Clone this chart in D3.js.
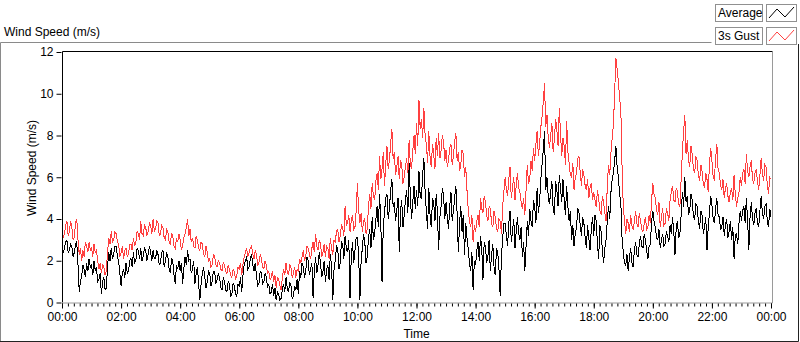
<!DOCTYPE html>
<html><head><meta charset="utf-8">
<script src="https://cdn.jsdelivr.net/npm/d3@7"></script>
<style>
html,body{margin:0;padding:0;background:#fff;}
svg text{font-family:"Liberation Sans",Arial,sans-serif;font-size:12px;fill:#000;}
</style></head>
<body>
<svg id="chart" width="800" height="342"></svg>
<script>
// ---- data (2.5-minute samples, 00:00 .. 24:00), one row per hour ----
const stepMinutes = 2.5;
const gust = [
3.8,3.1,3.3,3.7,3.9,3.2,3.4,3.9,3.6,3.0,3.1,3.8,4.0,3.0,2.3,2.6,2.0,2.5,2.2,2.9,2.7,2.4,2.9,2.5,
2.6,2.2,2.8,2.4,2.5,2.0,1.6,1.9,1.4,1.8,1.7,1.3,1.5,2.4,3.1,2.8,3.4,2.9,3.0,3.4,3.3,2.9,2.8,2.2,
2.4,2.7,2.1,2.5,2.6,2.2,2.3,2.8,2.8,2.5,3.1,2.7,2.9,3.4,3.3,3.0,3.9,3.3,3.2,3.7,3.6,3.2,3.4,3.8,
3.7,3.3,4.0,3.4,3.5,3.9,3.8,3.2,3.3,3.7,3.6,3.1,3.0,3.5,3.4,2.9,2.8,3.3,3.2,2.7,2.6,3.1,2.9,3.3,
3.0,2.5,2.7,3.1,3.3,3.6,4.0,3.2,3.5,2.9,3.1,2.7,2.6,3.2,3.0,2.6,2.5,2.9,2.8,2.3,2.2,2.7,2.4,2.0,
2.1,1.7,1.8,2.3,2.2,1.8,1.7,2.0,1.9,1.6,1.5,1.9,1.8,1.5,1.4,1.8,1.6,1.3,1.2,1.6,1.5,1.1,1.3,1.7,
1.6,1.9,1.3,1.8,2.2,2.4,2.6,2.2,2.4,2.6,2.7,2.3,2.1,2.5,2.3,1.8,1.9,2.3,2.1,1.7,1.6,2.0,1.8,1.4,
1.5,1.1,1.2,1.5,1.0,1.3,0.7,1.2,1.1,0.8,0.6,1.2,1.6,1.3,1.9,1.5,1.3,1.8,1.7,1.2,1.4,1.7,1.2,1.6,
1.5,2.1,1.9,2.2,2.5,2.0,2.2,2.7,2.6,2.3,2.1,2.6,2.9,2.4,3.3,2.7,2.5,3.0,2.8,2.2,2.4,2.8,2.2,2.7,
2.6,2.1,3.1,2.6,2.3,3.0,2.9,3.4,3.5,2.9,3.2,3.7,3.6,3.2,4.6,3.7,3.8,4.2,3.4,3.9,4.2,3.5,3.6,4.4,
5.7,4.4,3.8,4.3,3.4,3.9,4.0,3.3,3.5,4.6,5.2,4.5,5.7,5.1,4.9,5.8,6.2,5.4,7.0,5.9,6.4,7.2,5.6,6.6,
7.5,6.4,6.8,7.6,8.3,6.9,7.2,6.1,6.5,7.0,5.9,6.8,6.6,5.7,6.0,6.5,6.9,6.2,7.8,6.6,6.4,7.3,8.0,7.1,
8.6,7.5,9.7,8.3,8.8,7.9,9.3,8.0,7.6,6.7,8.2,7.0,6.5,7.6,7.1,6.4,7.9,7.0,8.1,6.9,7.3,8.0,7.7,6.8,
7.3,6.5,6.8,7.4,7.6,6.6,7.0,7.7,8.1,6.8,7.2,6.3,6.6,7.3,7.1,6.0,6.5,5.4,4.5,3.9,3.6,4.2,2.9,3.7,
3.4,3.9,4.2,3.6,5.0,4.5,4.3,5.1,4.8,4.2,3.9,4.6,4.5,3.8,3.6,4.4,4.1,3.5,3.4,4.0,3.9,3.3,4.6,5.3,
6.0,5.4,5.1,5.9,6.5,5.0,5.5,6.0,4.9,5.6,6.2,5.5,5.3,4.8,4.5,5.0,4.2,5.4,6.6,5.7,5.9,6.8,6.3,7.4,
6.8,7.6,8.2,7.0,7.6,8.4,8.9,9.6,10.5,8.4,9.0,7.9,7.4,8.0,8.6,7.2,7.8,8.8,8.3,7.5,9.3,8.1,7.0,7.9,
7.5,6.6,8.7,7.2,6.7,6.1,6.0,6.7,5.4,6.0,6.2,6.9,7.0,6.2,5.6,6.4,6.1,5.6,5.4,5.9,5.0,5.5,5.7,4.9,
5.3,4.9,4.6,5.4,5.0,4.4,4.2,5.1,4.8,4.3,3.9,5.6,6.6,6.1,7.2,7.9,8.5,10.1,11.7,11.2,10.6,9.8,9.2,6.5,
4.6,3.9,3.3,4.0,3.8,3.4,4.2,3.7,3.5,3.9,4.4,3.8,3.6,4.3,3.9,3.5,3.4,3.8,4.1,3.5,3.6,4.2,3.8,4.9,
5.7,5.2,5.0,4.4,4.2,4.8,3.6,4.1,4.5,3.7,3.8,4.5,4.3,3.9,4.9,5.3,5.6,4.9,4.8,5.5,5.3,4.7,4.6,5.9,
7.2,8.2,9.0,7.1,7.8,6.8,6.5,7.5,7.1,6.4,6.2,7.0,6.8,6.1,5.8,6.6,6.3,5.7,5.5,6.2,5.9,5.3,6.6,7.4,
6.8,6.0,5.9,6.9,7.6,6.4,6.2,5.6,5.4,5.9,5.0,5.5,5.7,5.1,4.8,5.3,5.5,4.9,6.1,5.2,4.6,5.0,5.3,6.0,
5.6,6.2,6.4,5.7,7.1,6.3,6.0,6.5,6.8,5.9,5.7,6.2,6.4,5.8,5.4,6.1,6.9,6.2,5.8,6.6,6.5,5.6,5.2,6.0,5.9
];
const average = [
2.8,2.4,2.6,2.9,3.0,2.4,2.5,2.8,2.7,2.2,2.4,2.8,2.9,1.8,0.5,1.0,1.3,1.8,1.6,1.2,1.9,1.5,2.1,1.7,
1.8,1.3,2.0,1.5,1.7,1.0,1.1,1.4,0.4,1.0,1.2,0.6,0.7,1.7,2.4,2.0,2.6,2.1,2.3,2.7,2.7,2.2,2.0,1.4,
0.8,1.4,1.6,1.2,1.9,1.4,1.5,2.0,2.1,1.7,2.4,1.9,2.0,2.6,2.5,2.1,2.6,2.0,2.2,2.6,2.5,2.0,2.3,2.7,
2.4,2.0,2.5,2.1,2.1,2.5,2.3,1.8,1.9,2.4,2.5,1.7,2.0,2.4,2.2,1.6,1.4,2.1,2.0,1.3,0.9,1.8,1.6,2.0,
1.5,1.9,0.9,1.6,2.2,1.8,2.5,2.0,2.1,1.4,1.6,2.0,0.9,1.4,1.7,0.9,0.1,0.9,1.4,1.7,1.2,0.7,1.0,1.5,
1.4,0.8,1.0,1.5,1.5,0.9,1.1,1.4,1.2,0.7,0.6,1.2,1.0,0.6,0.5,1.0,0.9,0.3,0.4,0.9,0.8,0.4,0.3,0.9,
0.8,1.2,0.5,1.3,1.8,2.0,2.2,1.6,1.7,2.1,2.3,1.8,1.5,1.9,1.3,0.8,0.9,1.5,1.4,0.9,1.0,1.4,1.2,0.7,
0.9,0.4,0.5,0.9,0.3,0.7,0.1,0.5,0.4,0.1,0.2,0.6,0.9,0.5,1.2,0.7,0.5,1.0,0.8,0.2,0.3,0.8,0.6,1.1,
0.4,1.5,1.2,1.9,1.7,1.2,1.5,2.2,2.0,1.3,1.6,1.9,0.2,1.5,2.2,1.4,1.8,2.4,1.9,1.2,1.5,2.0,1.0,1.6,
1.8,1.1,2.3,1.7,0.1,1.6,2.0,2.7,2.6,1.6,1.9,2.9,2.8,2.1,3.2,2.6,2.4,3.0,0.2,2.2,2.9,1.9,2.5,3.1,
3.1,2.3,0.1,2.0,2.6,3.3,2.9,1.9,2.2,3.1,3.5,2.6,4.1,3.0,3.3,4.0,4.6,3.6,5.2,3.9,1.0,3.6,4.3,5.0,
5.2,4.0,4.5,5.4,5.9,4.6,4.8,3.9,4.4,5.0,2.4,4.4,4.9,3.6,4.2,4.9,5.4,4.3,6.7,5.1,4.0,4.8,5.6,4.5,
5.4,4.6,6.3,5.1,5.0,6.1,6.9,5.3,4.4,3.5,5.5,4.2,3.6,5.0,4.8,3.9,5.2,4.3,2.5,4.1,4.6,5.5,5.1,4.0,
4.8,4.1,3.5,4.6,5.3,3.9,4.4,5.0,5.6,4.3,2.4,3.8,4.6,3.4,4.2,2.3,3.8,3.1,2.6,1.9,1.5,2.4,0.6,2.0,
1.8,2.5,2.9,2.0,3.2,2.6,1.1,2.9,2.7,1.9,2.2,3.0,1.5,2.3,2.8,1.7,1.3,2.6,2.4,1.6,0.3,2.2,3.1,3.8,
3.8,3.2,2.7,3.8,4.4,2.9,3.4,4.0,2.6,3.4,4.1,3.3,3.0,3.6,2.2,2.9,1.5,2.7,3.9,3.2,4.5,3.9,3.6,4.9,
4.6,3.8,5.5,4.3,4.8,5.9,6.6,7.3,8.2,5.4,6.0,5.1,4.7,5.3,5.8,4.5,4.2,5.8,5.4,4.6,6.1,5.5,4.8,5.9,
4.9,4.2,5.6,4.6,3.9,4.4,3.0,3.7,2.7,3.3,3.6,4.5,4.3,3.7,3.2,4.1,3.8,3.1,2.6,3.7,3.1,2.5,3.5,4.1,
3.2,4.2,3.9,2.8,2.1,3.7,3.4,2.5,1.9,2.6,3.0,3.9,4.6,4.0,5.3,5.9,6.2,6.8,7.5,6.5,6.0,5.2,4.8,3.1,
2.4,1.9,1.8,2.3,1.5,2.2,2.6,1.9,1.7,2.5,2.9,2.3,2.2,2.8,3.2,2.7,2.6,3.3,3.0,2.5,2.1,2.7,2.8,3.9,
4.4,3.9,3.6,3.1,3.0,3.5,2.6,3.0,3.3,2.7,2.8,3.4,3.2,2.9,3.7,3.3,4.1,3.4,2.3,3.6,3.9,3.1,3.3,4.2,
5.3,4.6,6.0,4.8,5.1,4.2,4.4,5.2,4.9,4.1,4.0,4.7,4.6,3.9,3.5,4.4,4.2,3.3,3.6,4.1,2.5,3.6,4.3,5.1,
4.7,4.0,3.8,4.5,5.0,4.2,4.1,3.5,3.6,4.1,3.2,3.7,4.0,3.1,3.4,3.9,3.0,3.6,2.1,3.2,3.3,2.8,3.8,4.4,
3.9,4.4,4.6,3.8,5.0,3.9,2.5,4.1,4.8,4.0,3.7,4.3,4.5,3.8,3.6,4.4,5.1,4.3,4.0,4.6,4.7,3.9,3.6,4.5,4.1
];
const seriesNames = ["Average", "3s Gust"];
const seriesColors = ["#000000", "#ff4040"];
const yTicks = [0, 2, 4, 6, 8, 10, 12];
const xTickMinutes = [0,120,240,360,480,600,720,840,960,1080,1200,1320,1440];
const xTickLabels = ["00:00","02:00","04:00","06:00","08:00","10:00","12:00","14:00","16:00","18:00","20:00","22:00","00:00"];

// ---- layout ----
const svg = d3.select("#chart");
const L = 62, R = 771, T = 52, B = 302.5;
const x = d3.scaleLinear().domain([0, 1440]).range([L, R]);
const y = d3.scaleLinear().domain([0, 12]).range([B, T]);

// outer frame
svg.append("path").attr("d","M0.5,342 V42.5 H711.5").attr("fill","none").attr("stroke","#8a8a8a");
svg.append("path").attr("d","M798.5,44 V341.5 H0").attr("fill","none").attr("stroke","#222");
svg.append("text").attr("x",4).attr("y",36).text("Wind Speed (m/s)");

// plot frame
svg.append("rect").attr("x",L).attr("y",T).attr("width",772-L).attr("height",B-T).attr("fill","#fff");
svg.append("path").attr("d",`M${L+0.5},${B} V${T-0.5} H772.5`).attr("fill","none").attr("stroke","#000");
svg.append("path").attr("d",`M${L},${B+0.5} H772.5 V${T}`).attr("fill","none").attr("stroke","#9a9a9a");

// series
const mk = arr => arr.map((v,i)=>[i*stepMinutes, v]);
const line = d3.line().x(d=>x(d[0])).y(d=>y(d[1]));
svg.append("clipPath").attr("id","pc").append("rect").attr("x",L+1).attr("y",T).attr("width",R-L+1).attr("height",B-T+1);
const g = svg.append("g").attr("clip-path","url(#pc)");
[average, gust].forEach((arr,k)=>{
  g.append("path").datum(mk(arr)).attr("d",line).attr("fill","none")
   .attr("stroke",seriesColors[k]).attr("stroke-width",1).attr("shape-rendering","crispEdges");
});

// y axis
const yAxis = d3.axisLeft(y).tickValues(yTicks).tickSize(5).tickSizeOuter(0).tickPadding(3);
const ya = svg.append("g").attr("transform",`translate(${L-0.5},0)`).call(yAxis);
ya.select(".domain").remove();
ya.selectAll("text").style("font-size","12px");

// x axis: minor + major ticks
const minor = d3.range(0, 1441, 12);
const xm = svg.append("g").attr("transform",`translate(0,${B+1})`)
  .call(d3.axisBottom(x).tickValues(minor).tickSize(3).tickFormat(""));
xm.select(".domain").remove();
const xAxis = d3.axisBottom(x).tickValues(xTickMinutes).tickSize(5).tickPadding(4)
  .tickFormat((d,i)=>xTickLabels[i]);
const xa = svg.append("g").attr("transform",`translate(0,${B+1})`).call(xAxis);
xa.select(".domain").remove();
xa.selectAll("text").style("font-size","12px");

// axis titles
svg.append("text").attr("x",(L+R)/2).attr("y",338).attr("text-anchor","middle").text("Time");
svg.append("text").attr("transform",`translate(36,168) rotate(-90)`).attr("text-anchor","middle").text("Wind Speed (m/s)");

// legend
const leg = svg.append("g");
seriesNames.forEach((name,k)=>{
  const yy = 4 + k*23;
  leg.append("rect").attr("x",715.5).attr("y",yy+0.5).attr("width",47).attr("height",17).attr("fill","#fff").attr("stroke","#909090");
  leg.append("text").attr("x",718).attr("y",yy+13).text(name);
  leg.append("rect").attr("x",766.5).attr("y",yy+0.5).attr("width",30).attr("height",17).attr("fill","#fff").attr("stroke","#909090");
  const pts = [[769,yy+14],[777,yy+5],[785,yy+13],[794,yy+3]];
  leg.append("path").attr("d",d3.line()(pts)).attr("fill","none").attr("stroke",seriesColors[k]);
});
</script>
</body></html>
